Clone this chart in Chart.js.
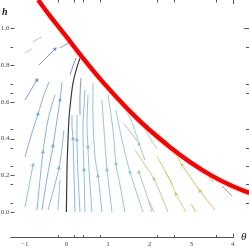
<!DOCTYPE html>
<html>
<head>
<meta charset="utf-8">
<script src="https://cdn.jsdelivr.net/npm/chart.js@4.4.1/dist/chart.umd.min.js"></script>
<style>
  html, body { margin: 0; padding: 0; background: #fff; overflow: hidden; }
  canvas { display: block; }
</style>
</head>
<body>
<canvas id="streamChart" width="249" height="248"></canvas>
<script>
// red boundary curve
var boundaryTheta = [-0.68, -0.4, 0, 0.4, 0.8, 1.2, 1.6, 2.0, 2.5, 3.0, 3.5, 4.0, 4.4];
var boundaryH = [1.155, 1.07, 0.955, 0.838, 0.728, 0.627, 0.532, 0.447, 0.352, 0.268, 0.197, 0.140, 0.104];

// dark separatrix from the origin up to the boundary
var sepTheta = [0.0, 0.014, 0.038, 0.063, 0.087, 0.159, 0.255, 0.327];
var sepH = [0.0, 0.229, 0.392, 0.512, 0.572, 0.703, 0.79, 0.839];

// stream segments, [theta, h] in flow direction
var streams = [
  [[-0.995, 0.610], [-0.851, 0.665], [-0.707, 0.719]],
  [[-0.803, 0.926], [-0.707, 0.940], [-0.587, 0.954]],
  [[-0.995, 0.866], [-0.911, 0.877], [-0.827, 0.888]],
  [[-0.659, 0.801], [-0.466, 0.845], [-0.274, 0.888]],
  [[-0.154, 0.894], [-0.034, 0.910], [0.111, 0.926]],
  [[0.087, 0.747], [0.159, 0.796], [0.231, 0.839]],
  [[-0.995, 0.300], [-0.851, 0.414], [-0.683, 0.534], [-0.538, 0.638], [-0.418, 0.708]],
  [[-0.995, 0.027], [-0.899, 0.142], [-0.803, 0.256]],
  [[-0.707, 0.011], [-0.635, 0.174], [-0.563, 0.327], [-0.466, 0.474], [-0.370, 0.567], [-0.274, 0.638]],
  [[-0.587, 0.011], [-0.466, 0.185], [-0.322, 0.360], [-0.226, 0.501], [-0.154, 0.610], [-0.106, 0.708]],
  [[-0.442, 0.011], [-0.298, 0.131], [-0.178, 0.240], [-0.106, 0.349], [-0.058, 0.447]],
  [[-0.202, 0.011], [-0.178, 0.093], [-0.154, 0.174]],
  [[0.207, 0.0], [0.183, 0.202], [0.159, 0.398], [0.135, 0.463], [0.135, 0.529]],
  [[0.327, 0.0], [0.279, 0.202], [0.255, 0.392], [0.255, 0.463], [0.255, 0.529]],
  [[0.327, 0.529], [0.327, 0.638], [0.351, 0.730]],
  [[0.447, 0.0], [0.423, 0.229], [0.399, 0.463], [0.447, 0.665]],
  [[0.615, 0.0], [0.543, 0.229], [0.519, 0.354], [0.495, 0.480], [0.519, 0.638]],
  [[0.856, 0.0], [0.760, 0.196], [0.688, 0.300], [0.639, 0.512], [0.639, 0.703]],
  [[1.096, 0.0], [0.976, 0.229], [0.904, 0.447], [0.856, 0.610]],
  [[1.409, 0.0], [1.288, 0.147], [1.192, 0.262], [1.120, 0.447], [1.000, 0.638]],
  [[1.841, 0.0], [1.529, 0.218], [1.337, 0.392], [1.192, 0.556]],
  [[2.058, 0.0], [1.889, 0.120], [1.745, 0.218]],
  [[1.697, 0.387], [1.553, 0.431], [1.385, 0.480]],
  [[1.889, 0.283], [1.745, 0.371], [1.601, 0.474], [1.433, 0.556]],
  [[2.178, 0.343], [2.010, 0.403], [1.865, 0.463]],
  [[2.106, 0.0], [2.046, 0.030], [1.986, 0.060]],
  [[2.442, 0.0], [2.106, 0.180], [1.889, 0.256], [1.649, 0.338]],
  [[2.875, 0.0], [2.635, 0.098], [2.490, 0.174], [2.178, 0.305]],
  [[2.779, 0.256], [2.538, 0.349], [2.370, 0.392], [2.202, 0.425]],
  [[2.562, 0.147], [2.466, 0.185], [2.370, 0.218]],
  [[3.572, 0.011], [3.212, 0.114], [2.995, 0.185], [2.803, 0.245]],
  [[3.115, 0.0], [3.055, 0.022], [2.995, 0.044]],
  [[3.524, 0.163], [3.464, 0.183], [3.404, 0.202]],
  [[3.981, 0.087], [3.861, 0.114], [3.740, 0.142]]
];

var xTickLabels = [-1, 0, 1, 2, 3, 4];
var yTickLabels = [0, 0.2, 0.4, 0.6, 0.8, 1.0];
var xMinorTicks = [-0.2, 0.18, 0.4, 0.81, 2.18, 2.59, 3.6];
var yMinorTicks = [0.9, 0.7, 0.65, 0.45, 0.35, 0.25, 0.15, 0.05];

// styles: colour and arrow positions (point index) for each stream
var streamColors = [
  '#6890dc', '#a8c0ea', '#a8c2ea', '#6088dc', '#8080e2', '#8074e2',
  '#70aadc', '#80bcdc', '#74aedc', '#70a4de', '#78b2dc', '#84c0dc',
  '#80aee2', '#80b2e2', '#7480e2', '#80b6e2', '#82bae2', '#84bee2',
  '#84c0e2', '#84c4de', '#86c8d0', '#9ccc9e', '#88c6cc', '#8ecab8',
  '#a0ce96', '#a6ce8a', '#aece7a', '#d0ca60', '#c8ca6c', '#c0ca70',
  '#eaac54', '#e8ac50', '#ea9850', '#ea7852'
];
var streamArrows = [
  [2], [], [], [2], [], [],
  [2], [2], [2], [2, 4], [2], [],
  [2], [2], [], [1], [2], [1],
  [1], [2], [1], [2], [], [1],
  [], [], [1], [1], [0], [],
  [1], [], [], []
];
var axisLevel = -0.136, axisStart = -1.35, axisEnd = 4.02;
var leftTickAt = -1.33;

function arrowRotation(ctx) {
  var pts = ctx.dataset.data, i = ctx.dataIndex;
  var xs = ctx.chart.scales.x, ys = ctx.chart.scales.y;
  var a = pts[Math.max(i - 1, 0)], b = pts[Math.min(i + 1, pts.length - 1)];
  var dx = xs.getPixelForValue(b.x) - xs.getPixelForValue(a.x);
  var dy = ys.getPixelForValue(b.y) - ys.getPixelForValue(a.y);
  return Math.atan2(dx, -dy) * 180 / Math.PI;
}

var datasets = [];
datasets.push({
  data: boundaryTheta.map(function (t, i) { return { x: t, y: boundaryH[i] }; }),
  showLine: true, borderColor: '#ff0000', borderWidth: 4.5, pointRadius: 0,
  pointHoverRadius: 0, tension: 0.4, order: 0
});
datasets.push({
  data: sepTheta.map(function (t, i) { return { x: t, y: sepH[i] }; }),
  showLine: true, borderColor: '#3a3a3a', borderWidth: 1.2, pointRadius: 0,
  pointHoverRadius: 0, tension: 0.3, order: 1
});
streams.forEach(function (s, k) {
  var arrows = streamArrows[k];
  datasets.push({
    data: s.map(function (p) { return { x: p[0], y: p[1] }; }),
    showLine: true, borderColor: streamColors[k], backgroundColor: streamColors[k],
    borderWidth: 0.9, tension: 0.3, order: 2,
    pointStyle: 'triangle',
    pointRadius: function (ctx) { return arrows.indexOf(ctx.dataIndex) >= 0 ? 1.9 : 0; },
    pointHoverRadius: 0,
    pointBorderWidth: 0.5,
    pointRotation: arrowRotation
  });
});

var frameAxes = {
  id: 'frameAxes',
  afterDatasetsDraw: function (chart) {
    var c = chart.ctx, xs = chart.scales.x, ys = chart.scales.y;
    var axisY = Math.round(ys.getPixelForValue(axisLevel)) + 0.5;
    var top = chart.chartArea.top, right = chart.chartArea.right;
    var leftX = Math.round(xs.getPixelForValue(leftTickAt)) + 0.5;
    c.save();
    c.strokeStyle = '#555';
    c.lineWidth = 1;
    c.beginPath();
    c.moveTo(xs.getPixelForValue(axisStart), axisY);
    c.lineTo(xs.getPixelForValue(axisEnd), axisY);
    xMinorTicks.forEach(function (v) {
      var px = Math.round(xs.getPixelForValue(v)) + 0.5;
      c.moveTo(px, top); c.lineTo(px, top + 2.5);
      c.moveTo(px, axisY); c.lineTo(px, axisY - 2.5);
    });
    var p4 = Math.round(xs.getPixelForValue(4)) + 0.5;
    c.moveTo(p4, top); c.lineTo(p4, top + 4);
    c.moveTo(p4, axisY); c.lineTo(p4, axisY - 4);
    yTickLabels.forEach(function (v) {
      var py = Math.round(ys.getPixelForValue(v)) + 0.5;
      c.moveTo(leftX - 1, py); c.lineTo(leftX + 3, py);
    });
    yMinorTicks.forEach(function (v) {
      var py = Math.round(ys.getPixelForValue(v)) + 0.5;
      c.moveTo(leftX - 1, py); c.lineTo(leftX + 1.5, py);
      c.moveTo(right - 3, py); c.lineTo(right, py);
    });
    var p1 = Math.round(ys.getPixelForValue(1)) + 0.5;
    c.moveTo(right - 5, p1); c.lineTo(right, p1);
    c.stroke();

    c.fillStyle = '#444';
    c.font = '7px "Liberation Serif", serif';
    c.textAlign = 'center';
    c.textBaseline = 'middle';
    xTickLabels.forEach(function (v) {
      c.fillText(String(v).replace('-', '\u2212'), xs.getPixelForValue(v), axisY + 7);
    });
    c.textAlign = 'right';
    yTickLabels.forEach(function (v) {
      c.fillText(v.toFixed(1), leftX - 2, ys.getPixelForValue(v));
    });
    c.fillStyle = '#222';
    c.textAlign = 'left';
    c.font = 'italic bold 10px "Liberation Serif", serif';
    c.fillText('h', 2, 12);
    c.font = 'italic 11px "Liberation Serif", serif';
    c.fillText('\u03b8', 241, axisY);
    c.restore();
  }
};

new Chart(document.getElementById('streamChart'), {
  type: 'scatter',
  data: { datasets: datasets },
  options: {
    responsive: false,
    animation: false,
    events: [],
    layout: { padding: 0, autoPadding: false },
    plugins: { legend: { display: false }, tooltip: { enabled: false } },
    scales: {
      x: { type: 'linear', display: false, min: -1.596, max: 4.389 },
      y: { type: 'linear', display: false, min: -0.196, max: 1.155 }
    }
  },
  plugins: [frameAxes]
});
</script>
</body>
</html>
